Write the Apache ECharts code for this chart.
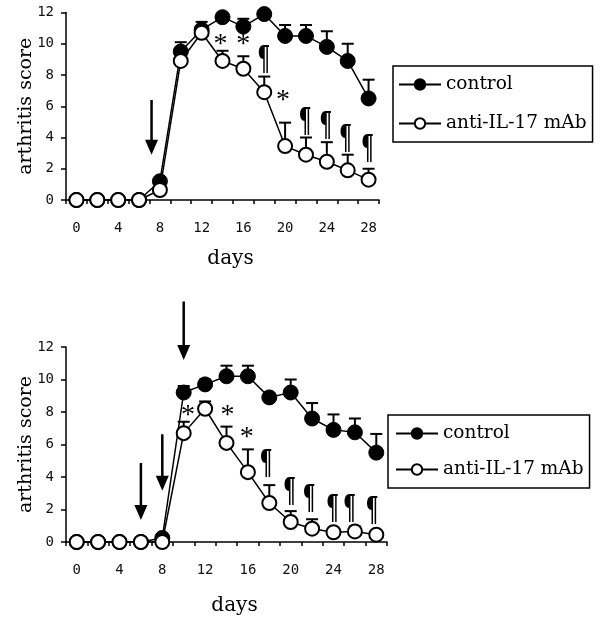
<!DOCTYPE html>
<html>
<head>
<meta charset="utf-8">
<script src="https://cdn.jsdelivr.net/npm/echarts@6/dist/echarts.min.js"></script>
<style>
html,body{margin:0;padding:0;background:#fff;}
#c{width:600px;height:623px;}
</style>
</head>
<body>
<div id="c"></div>
<script>
// ---- data ----
const days = [0, 2, 4, 6, 8, 10, 12, 14, 16, 18, 20, 22, 24, 26, 28];
const xTickValues = [-1, 1, 3, 5, 7, 9, 11, 13, 15, 17, 19, 21, 23, 25, 27, 29];
const xLabelValues = [0, 4, 8, 12, 16, 20, 24, 28];
const seriesNames = ['control', 'anti-IL-17 mAb'];

// top panel
const ctrlA    = [0, 0, 0, 0, 1.2, 9.5, 10.9, 11.7, 11.1, 11.9, 10.5, 10.5, 9.8, 8.9, 6.5];
const ctrlASem = [0, 0, 0, 0, 0, 0.6, 0.5, 0, 0.5, 0, 0.7, 0.7, 1.0, 1.1, 1.2];
const antiA    = [0, 0, 0, 0, 0.64, 8.9, 10.7, 8.9, 8.4, 6.9, 3.45, 2.9, 2.45, 1.9, 1.3];
const antiASem = [0, 0, 0, 0, 0, 0, 0, 0.65, 0.8, 1.0, 1.5, 1.1, 1.25, 1.0, 0.7];
const marksA = [[13.8, 10.15, '*'], [16.0, 10.15, '*'], [17.96, 9.15, '¶'], [19.8, 6.56, '*'],
                [21.9, 5.13, '¶'], [23.9, 4.9, '¶'], [25.8, 4.06, '¶'], [27.9, 3.46, '¶']];
const arrowsA = [[7.2, 6.4, 2.9]];

// bottom panel
const ctrlB    = [0, 0, 0, 0, 0.25, 9.2, 9.7, 10.2, 10.2, 8.9, 9.2, 7.6, 6.9, 6.75, 5.5];
const ctrlBSem = [0, 0, 0, 0, 0, 0.4, 0.3, 0.65, 0.65, 0, 0.8, 0.95, 0.95, 0.85, 1.15];
const antiB    = [0, 0, 0, 0, 0, 6.7, 8.2, 6.1, 4.3, 2.4, 1.23, 0.82, 0.6, 0.65, 0.45];
const antiBSem = [0, 0, 0, 0, 0, 0.7, 0.45, 1.0, 1.4, 1.1, 0.67, 0.58, 0, 0.3, 0];
const marksB = [[10.4, 7.94, '*'], [14.1, 7.94, '*'], [15.9, 6.6, '*'], [17.7, 4.96, '¶'],
                [19.9, 3.22, '¶'], [21.7, 2.81, '¶'], [23.9, 2.19, '¶'], [25.5, 2.19, '¶'], [27.6, 2.09, '¶']];
const arrowsB = [[6, 4.86, 1.35], [8, 6.63, 3.16], [10, 14.8, 11.2]];

// ---- helpers ----
const pts = (ys) => days.map((d, i) => [d, ys[i]]);
const errs = (ys, sem) => days.map((d, i) => [d, ys[i], ys[i] + sem[i]]).filter(r => r[2] > r[1]);

function errSeries(idx, data) {
  return {
    type: 'custom', xAxisIndex: idx, yAxisIndex: idx, z: 1, silent: true,
    data: data,
    renderItem: function (params, api) {
      const p0 = api.coord([api.value(0), api.value(1)]);
      const p1 = api.coord([api.value(0), api.value(2)]);
      const st = { stroke: '#000', lineWidth: 2 };
      return { type: 'group', children: [
        { type: 'line', shape: { x1: p0[0], y1: p0[1], x2: p1[0], y2: p1[1] }, style: st },
        { type: 'line', shape: { x1: p1[0] - 6, y1: p1[1], x2: p1[0] + 6, y2: p1[1] }, style: st }
      ]};
    }
  };
}
function markSeries(idx, data) {
  return {
    type: 'custom', xAxisIndex: idx, yAxisIndex: idx, z: 5, silent: true,
    data: data,
    renderItem: function (params, api) {
      const p = api.coord([api.value(0), api.value(1)]);
      const t = data[params.dataIndex][2];
      if (t === '*') {
        return { type: 'text', x: p[0], y: p[1] + 3,
          style: { text: t, fill: '#000', align: 'center', verticalAlign: 'middle',
                   font: '28px "Liberation Serif"' } };
      }
      return { type: 'text', x: p[0], y: p[1] + 4, scaleX: 0.62, scaleY: 1,
        style: { text: t, fill: '#000', align: 'center', verticalAlign: 'middle',
                 font: 'bold 33px "DejaVu Serif"' } };
    }
  };
}
function arrowSeries(idx, data) {
  return {
    type: 'custom', xAxisIndex: idx, yAxisIndex: idx, z: 5, silent: true, clip: false,
    data: data,
    renderItem: function (params, api) {
      const a = api.coord([api.value(0), api.value(1)]);
      const b = api.coord([api.value(0), api.value(2)]);
      return { type: 'group', children: [
        { type: 'line', shape: { x1: a[0], y1: a[1], x2: b[0], y2: b[1] - 12 }, style: { stroke: '#000', lineWidth: 2.5 } },
        { type: 'polygon', shape: { points: [[b[0] - 6.5, b[1] - 15], [b[0] + 6.5, b[1] - 15], [b[0], b[1]]] }, style: { fill: '#000' } }
      ]};
    }
  };
}
function lineSeries(idx, name, ys, filled) {
  return {
    type: 'line', name: name, xAxisIndex: idx, yAxisIndex: idx, z: 3,
    data: pts(ys), symbol: 'circle', symbolSize: filled ? 15 : 14, showSymbol: true,
    lineStyle: { color: '#000', width: 1.5 },
    itemStyle: filled ? { color: '#000', borderColor: '#000', borderWidth: 1 }
                      : { color: '#fff', borderColor: '#000', borderWidth: 2 },
    emphasis: { disabled: true }
  };
}
const tickFont = { fontFamily: '"DejaVu Sans Mono"', fontSize: 14, color: '#111' };
const nameFont = { fontFamily: '"DejaVu Serif"', fontSize: 19, color: '#000' };
function xAxis(idx, gap) {
  return {
    type: 'value', gridIndex: idx, min: -1, max: 29,
    name: 'days', nameLocation: 'middle', nameGap: gap, nameMoveOverlap: false,
    nameTextStyle: Object.assign({ padding: [0, 0, 0, 16] }, nameFont, { fontSize: 20 }),
    axisLine: { onZero: false, lineStyle: { color: '#000', width: 1.5 } },
    axisTick: { show: true, customValues: xTickValues, length: 4, lineStyle: { color: '#000', width: 1.5 } },
    axisLabel: Object.assign({ customValues: xLabelValues, margin: 21 }, tickFont),
    splitLine: { show: false }
  };
}
function yAxis(idx) {
  return {
    type: 'value', gridIndex: idx, min: 0, max: 12, interval: 2,
    name: 'arthritis score', nameLocation: 'middle', nameGap: 30, nameRotate: 90,
    nameMoveOverlap: false,
    nameTextStyle: nameFont,
    axisLine: { onZero: false, lineStyle: { color: '#000', width: 1.5 } },
    axisTick: { show: true, length: 5, lineStyle: { color: '#000', width: 1.5 } },
    axisLabel: Object.assign({ margin: 12 }, tickFont),
    splitLine: { show: false }
  };
}
function legend(left, top, gap, pad) {
  return {
    orient: 'vertical', left: left, top: top, data: seriesNames,
    itemWidth: 42, itemHeight: 13, itemGap: gap, itemTextGap: 4,
    padding: pad, borderColor: '#000', borderWidth: 1.5, borderRadius: 0,
    selectedMode: false,
    textStyle: { fontFamily: '"DejaVu Serif"', fontSize: 18.5, color: '#000' }
  };
}

const chart = echarts.init(document.getElementById('c'), null, { renderer: 'canvas' });
chart.setOption({
  animation: false,
  backgroundColor: '#fff',
  grid: [
    { left: 66, top: 12.5, width: 313, height: 187.5 },
    { left: 66, top: 347, width: 321, height: 195 }
  ],
  xAxis: [xAxis(0, 49), xAxis(1, 54)],
  yAxis: [yAxis(0), yAxis(1)],
  legend: [legend(393, 66, 20, [9, 6, 9, 5]), legend(388, 415, 17, [9, 6, 9, 7])],
  series: [
    errSeries(0, errs(ctrlA, ctrlASem)),
    errSeries(0, errs(antiA, antiASem)),
    lineSeries(0, seriesNames[0], ctrlA, true),
    lineSeries(0, seriesNames[1], antiA, false),
    markSeries(0, marksA),
    arrowSeries(0, arrowsA),
    errSeries(1, errs(ctrlB, ctrlBSem)),
    errSeries(1, errs(antiB, antiBSem)),
    lineSeries(1, seriesNames[0], ctrlB, true),
    lineSeries(1, seriesNames[1], antiB, false),
    markSeries(1, marksB),
    arrowSeries(1, arrowsB)
  ]
});
</script>
</body>
</html>
